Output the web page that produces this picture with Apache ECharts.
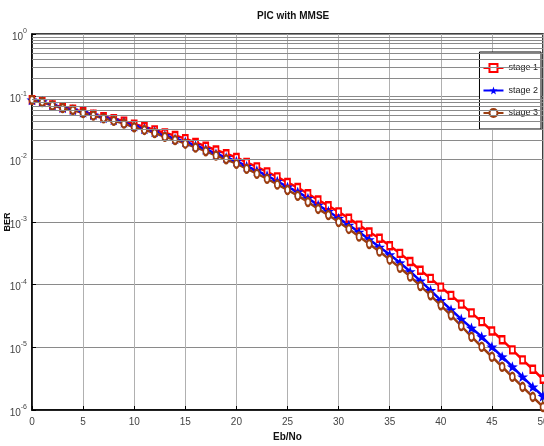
<!DOCTYPE html>
<html>
<head>
<meta charset="utf-8">
<script src="https://cdn.jsdelivr.net/npm/echarts@6/dist/echarts.min.js"></script>
<style>html,body{margin:0;padding:0;background:#fff}#c{width:544px;height:446px}</style>
</head>
<body>
<div id="c"></div>
<script>
// Eb/No values (0..50 step 1)
const ebno = [0,1,2,3,4,5,6,7,8,9,10,11,12,13,14,15,16,17,18,19,20,21,22,23,24,25,26,27,28,29,30,31,32,33,34,35,36,37,38,39,40,41,42,43,44,45,46,47,48,49,50];
const stage1 = [0.0891,0.0832,0.0741,0.0676,0.0631,0.0575,0.0525,0.0479,0.0447,0.0407,0.0363,0.0331,0.0295,0.0263,0.0240,0.0214,0.0186,0.0162,0.0141,0.0123,0.0107,0.00891,0.00759,0.00631,0.00525,0.00427,0.00355,0.00282,0.00224,0.00182,0.00145,0.00115,8.91e-4,6.92e-4,5.50e-4,4.17e-4,3.16e-4,2.34e-4,1.70e-4,1.26e-4,9.12e-5,6.76e-5,4.90e-5,3.55e-5,2.57e-5,1.82e-5,1.32e-5,9.12e-6,6.31e-6,4.47e-6,3.09e-6];
const stage2 = [0.0891,0.0832,0.0733,0.0668,0.0617,0.0562,0.0513,0.0462,0.0427,0.0389,0.0339,0.0309,0.0275,0.0240,0.0214,0.0191,0.0166,0.0145,0.0123,0.0107,0.00933,0.00776,0.00661,0.00550,0.00447,0.00363,0.00302,0.00240,0.00186,0.00148,0.00115,8.91e-4,6.92e-4,5.25e-4,3.98e-4,3.02e-4,2.24e-4,1.62e-4,1.15e-4,8.13e-5,5.62e-5,3.98e-5,2.82e-5,2.04e-5,1.48e-5,1.02e-5,7.08e-6,4.90e-6,3.39e-6,2.34e-6,1.66e-6];
const stage3 = [0.0891,0.0822,0.0724,0.0661,0.0610,0.0550,0.0501,0.0452,0.0412,0.0372,0.0324,0.0295,0.0263,0.0229,0.0204,0.0178,0.0155,0.0135,0.0115,0.0100,0.00851,0.00708,0.00589,0.00490,0.00398,0.00324,0.00263,0.00209,0.00162,0.00129,0.00100,7.76e-4,5.89e-4,4.47e-4,3.39e-4,2.51e-4,1.86e-4,1.35e-4,9.55e-5,6.76e-5,4.68e-5,3.24e-5,2.19e-5,1.48e-5,1.02e-5,7.08e-6,4.90e-6,3.39e-6,2.34e-6,1.62e-6,1.12e-6];
const seriesNames = ['stage 1','stage 2','stage 3'];
const decades = [-6,-5,-4,-3,-2,-1];
const minorMult = [2,3,4,5,6,7,8,9];

const FONT = '"Liberation Sans Narrow","Liberation Sans",Arial,sans-serif';
const pair = ys => ebno.map((x,i)=>[x, ys[i]]);
const minorLines = [];
decades.forEach(d => minorMult.forEach(k => minorLines.push({yAxis: k*Math.pow(10,d)})));
const star = 'path://M0,-10L2.35,-3.24L9.51,-3.09L3.8,1.24L5.88,8.09L0,4L-5.88,8.09L-3.8,1.24L-9.51,-3.09L-2.35,-3.24Z';

const chart = echarts.init(document.getElementById('c'));
chart.setOption({
  animation: false,
  backgroundColor: '#fff',
  title: {text: 'PIC with MMSE', left: 252, top: 6,
    textStyle: {fontFamily: FONT, fontSize: 10, fontWeight: 'bold', color: '#111'}},
  grid: {left: 32, right: 1, top: 34, bottom: 36, containLabel: false, outerBoundsMode: 'none',
    show: true, borderColor: '#000', borderWidth: 1.5, backgroundColor: 'transparent'},
  legend: {
    data: seriesNames, orient: 'vertical', right: 3, top: 52,
    backgroundColor: '#fff', borderColor: '#000', borderWidth: 1,
    padding: [11, 3, 11, 3], itemGap: 13, itemWidth: 20, itemHeight: 10,
    textStyle: {fontFamily: FONT, fontSize: 9, color: '#222', padding: [0,0,0,0]}
  },
  xAxis: {
    type: 'value', min: 0, max: 50, interval: 5,
    name: 'Eb/No', nameLocation: 'middle', nameGap: 22,
    nameTextStyle: {fontFamily: FONT, fontSize: 10, fontWeight: 'bold', color: '#111'},
    axisLine: {lineStyle: {color: '#000', width: 1.5}},
    axisTick: {inside: true, length: 4, lineStyle: {color: '#000'}},
    axisLabel: {fontFamily: FONT, fontSize: 10, color: '#444', margin: 7},
    splitLine: {show: true, lineStyle: {color: '#b0b0b0', width: 1}}
  },
  yAxis: {
    type: 'log', logBase: 10, min: 1e-6, max: 1,
    name: 'BER', nameLocation: 'middle', nameGap: 20, nameMoveOverlap: false,
    nameTextStyle: {fontFamily: FONT, fontSize: 9, fontWeight: 'bold', color: '#111', padding: [0,0,0,0]},
    axisLine: {lineStyle: {color: '#000', width: 1.5}},
    axisTick: {inside: true, length: 4, lineStyle: {color: '#000'}},
    axisLabel: {
      margin: 5, color: '#444',
      formatter: v => '{b|10}{s|' + Math.round(Math.log10(v)) + '}',
      rich: {
        b: {fontFamily: FONT, fontSize: 10, color: '#444', padding: [6,0,0,0]},
        s: {fontFamily: FONT, fontSize: 7, color: '#444', padding: [0,0,6,0]}
      }
    },
    splitLine: {show: true, lineStyle: {color: '#8a8a8a', width: 1}}
  },
  series: [
    {type: 'line', name: '_grid', data: [], z: 1, silent: true,
     markLine: {silent: true, symbol: ['none','none'], label: {show: false}, animation: false,
       lineStyle: {color: '#8a8a8a', width: 1, type: 'solid'}, emphasis: {disabled: true}, data: minorLines}},
    {type: 'line', name: seriesNames[0], data: pair(stage1), symbol: 'emptyRect', symbolSize: [5,7],
     lineStyle: {color: '#ff0000', width: 2.5}, itemStyle: {color: '#ff0000', borderWidth: 1.3}},
    {type: 'line', name: seriesNames[1], data: pair(stage2), symbol: star, symbolSize: 11,
     lineStyle: {color: '#0000ff', width: 2.5}, itemStyle: {color: '#0000ff'}},
    {type: 'line', name: seriesNames[2], data: pair(stage3), symbol: 'emptyCircle', symbolSize: [5,8],
     lineStyle: {color: '#9b3d10', width: 2.5}, itemStyle: {color: '#9b3d10', borderWidth: 1.3}}
  ]
});
</script>
</body>
</html>
